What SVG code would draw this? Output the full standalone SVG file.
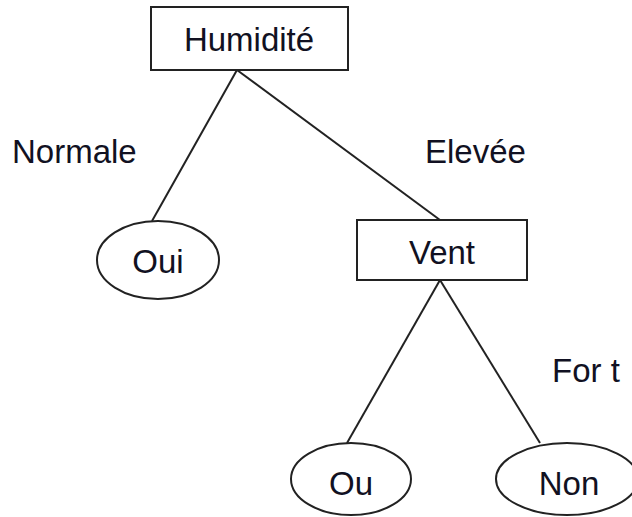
<svg xmlns="http://www.w3.org/2000/svg" width="632" height="517" viewBox="0 0 632 517">
  <style>
    .box { fill: #ffffff; stroke: #222222; stroke-width: 2; }
    .edge { stroke: #222222; stroke-width: 2; fill: none; }
    text { font-family: "Liberation Sans", Arial, sans-serif; font-size: 33px; fill: #111122; }
    .c { text-anchor: middle; }
  </style>
  <rect width="632" height="517" fill="#ffffff"/>

  <!-- connectors -->
  <g id="connectors">
    <line class="edge" x1="237" y1="70" x2="152" y2="221"/>
    <line class="edge" x1="237" y1="70" x2="440" y2="220"/>
    <line class="edge" x1="440" y1="280" x2="347" y2="443"/>
    <line class="edge" x1="440" y1="280" x2="540" y2="443"/>
  </g>

  <!-- branch labels -->
  <g id="labels">
    <text x="12" y="163">Normale</text>
    <text x="425" y="163">Elevée</text>
    <text x="552" y="382">For t</text>
  </g>

  <g id="humidite">
    <rect class="box" x="151" y="7" width="197" height="63"/>
    <text class="c" x="249" y="51">Humidité</text>
  </g>

  <g id="oui">
    <ellipse class="box" cx="158" cy="260" rx="61" ry="39"/>
    <text class="c" x="158" y="273">Oui</text>
  </g>

  <g id="vent">
    <rect class="box" x="357" y="220" width="170" height="60"/>
    <text class="c" x="442" y="264">Vent</text>
  </g>

  <g id="ou">
    <ellipse class="box" cx="351" cy="479" rx="60" ry="36"/>
    <text class="c" x="351" y="495">Ou</text>
  </g>

  <g id="non">
    <ellipse class="box" cx="567" cy="479" rx="71" ry="36"/>
    <text class="c" x="569" y="495">Non</text>
  </g>
</svg>
